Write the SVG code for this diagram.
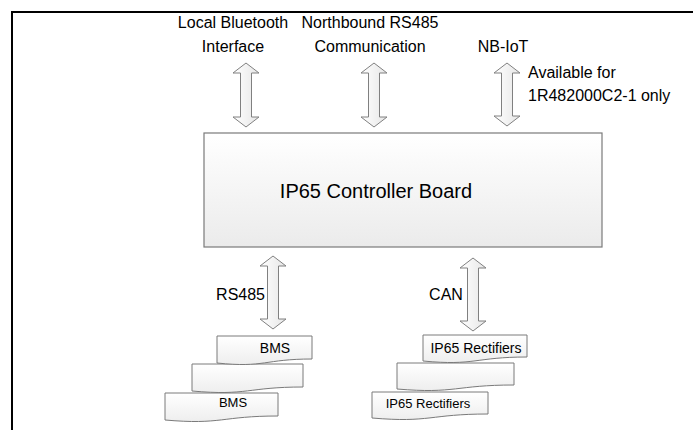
<svg xmlns="http://www.w3.org/2000/svg" width="693" height="430" viewBox="0 0 693 430">
<defs>
<linearGradient id="gBox" x1="0" y1="0" x2="0" y2="1">
<stop offset="0" stop-color="#ffffff"/>
<stop offset="1" stop-color="#ebebeb"/>
</linearGradient>
<linearGradient id="gArrow" x1="0" y1="0" x2="1" y2="0">
<stop offset="0" stop-color="#ffffff"/>
<stop offset="1" stop-color="#e6e6e6"/>
</linearGradient>
<linearGradient id="gSheet" x1="0" y1="0" x2="0" y2="1">
<stop offset="0" stop-color="#ffffff"/>
<stop offset="1" stop-color="#eeeeee"/>
</linearGradient>
</defs>
<style>
text{font-family:"Liberation Sans",Arial,sans-serif;fill:#000}
.lbl{font-size:16px}
.box{fill:url(#gBox);stroke:#7a7a7a;stroke-width:1.2}
.arr{fill:url(#gArrow);stroke:#808080;stroke-width:1}
.sheet{fill:url(#gSheet);stroke:#7a7a7a;stroke-width:1}
.frame{stroke:#000;stroke-width:2;fill:none}
</style>
<rect width="693" height="430" fill="#fff"/>
<path class="frame" d="M12,430 V12 H693"/>

<g id="labels">
<text class="lbl" x="233" y="28" text-anchor="middle">Local Bluetooth</text>
<text class="lbl" x="233" y="52" text-anchor="middle">Interface</text>
<text class="lbl" x="370" y="28" text-anchor="middle">Northbound RS485</text>
<text class="lbl" x="370" y="52" text-anchor="middle">Communication</text>
<text class="lbl" x="503" y="52" text-anchor="middle">NB-IoT</text>
<text class="lbl" x="528" y="78">Available for</text>
<text class="lbl" x="528" y="101">1R482000C2-1 only</text>
<text class="lbl" x="265" y="300" text-anchor="end">RS485</text>
<text class="lbl" x="446" y="300" text-anchor="middle">CAN</text>
</g>

<g id="connectors">
<path class="arr" d="M246,63 L259,73 L251.5,73 L251.5,117 L259,117 L246,127 L233,117 L240.5,117 L240.5,73 L233,73 Z"/>
<path class="arr" d="M374,63 L387,73 L379.5,73 L379.5,117 L387,117 L374,127 L361,117 L368.5,117 L368.5,73 L361,73 Z"/>
<path class="arr" d="M507,63 L520,73 L512.5,73 L512.5,116 L520,116 L507,126 L494,116 L501.5,116 L501.5,73 L494,73 Z"/>
<path class="arr" d="M273,256 L286,266 L278.5,266 L278.5,319 L286,319 L273,329 L260,319 L267.5,319 L267.5,266 L260,266 Z"/>
<path class="arr" d="M473,258 L486,268 L478.5,268 L478.5,321 L486,321 L473,331 L460,321 L467.5,321 L467.5,268 L460,268 Z"/>
</g>

<g id="controller">
<rect class="box" x="204" y="133" width="398" height="114"/>
<text x="376" y="198" font-size="20" text-anchor="middle">IP65 Controller Board</text>
</g>

<g id="bms3">
<path class="sheet" d="M165,393 H278 V416 C221.5,416 221.5,425 165,420 Z"/>
<text x="233" y="407" font-size="13" text-anchor="middle">BMS</text>
</g>
<g id="bms2">
<path class="sheet" d="M192,364 H303 V387 C247.5,387 247.5,396 192,391 Z"/>
</g>
<g id="bms1">
<path class="sheet" d="M217,336 H312 V359 C264.5,359 264.5,368 217,363 Z"/>
<text x="275" y="353" font-size="14" text-anchor="middle">BMS</text>
</g>

<g id="rect3">
<path class="sheet" d="M372,392 H488 V414 C430,414 430,423 372,418 Z"/>
<text x="428" y="408" font-size="13" text-anchor="middle">IP65 Rectifiers</text>
</g>
<g id="rect2">
<path class="sheet" d="M397,363 H514 V385 C455.5,385 455.5,394 397,389 Z"/>
</g>
<g id="rect1">
<path class="sheet" d="M423,335 H527 V357 C475,357 475,366 423,361 Z"/>
<text x="476" y="353" font-size="14" text-anchor="middle">IP65 Rectifiers</text>
</g>
</svg>
